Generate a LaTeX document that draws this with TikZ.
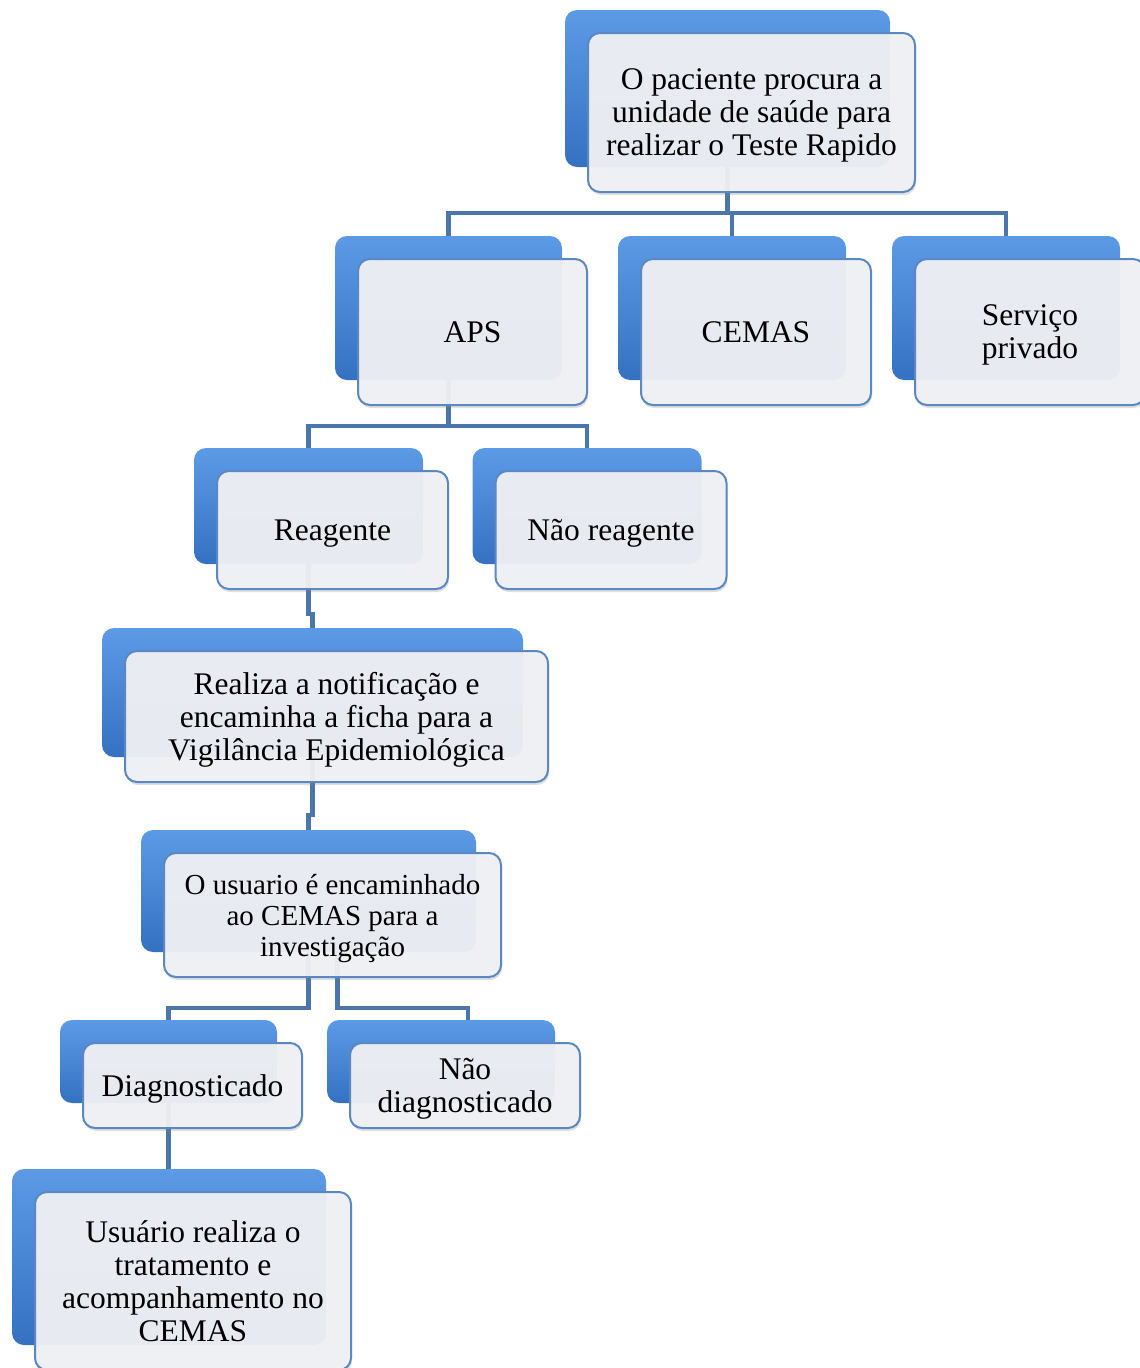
\documentclass[tikz,border=0pt]{standalone}
\usepackage{fontspec}
\setmainfont{Liberation Serif}
\usetikzlibrary{shadows}
\definecolor{backtop}{HTML}{5C9AE6}
\definecolor{backmid}{HTML}{3F7FCF}
\definecolor{backbot}{HTML}{3571C1}
\definecolor{frontfill}{HTML}{F0F1F4}
\definecolor{frontline}{HTML}{5C88C2}
\definecolor{linkblue}{HTML}{4A76AA}

% name/x/y/width/height/font size/line skip/text (back box centre, in pixels)
\def\boxlist{
  top/727.5/88.5/325/157/31.5/33/{O paciente procura a\\unidade de saúde para\\realizar o Teste Rapido},
  aps/448.5/308/227/144/31.5/33/{APS},
  cemas/732/308/228/144/31.5/33/{CEMAS},
  priv/1006/308/228/144/31.5/33/{Serviço\\privado},
  reag/308.5/506/229/116/31.5/33/{Reagente},
  nreag/587/506/229/116/31.5/33/{Não reagente},
  notif/312.5/692.5/421/129/31.5/33/{Realiza a notificação e\\encaminha a ficha para a\\Vigilância Epidemiológica},
  usu/308.5/891/335/122/29/31/{O usuario é encaminhado\\ao CEMAS para a\\investigação},
  diag/168.5/1061.5/217/83/31.5/33/{Diagnosticado},
  ndiag/441/1061.5/228/83/31.5/33/{Não\\diagnosticado},
  trat/169/1257/314/176/31.5/33/{Usuário realiza o\\tratamento e\\acompanhamento no\\CEMAS}}

\begin{document}
\begin{tikzpicture}[x=1pt, y=-1pt,
  backbox/.style={rounded corners=12pt, top color=backtop, middle color=backmid, bottom color=backbot, inner sep=0pt},
  frontbox/.style={rounded corners=12pt, draw=frontline, line width=2pt, fill=frontfill,
    fill opacity=0.95, text opacity=1, align=center, inner sep=2pt, text depth=0pt,
    drop shadow={shadow xshift=1pt, shadow yshift=-3pt, opacity=0.25}},
  link/.style={draw=linkblue, line width=4.5pt}]
\useasboundingbox (0,0) rectangle (1140,1368);

% Draw the blue back boxes
\foreach \name/\x/\y/\w/\h/\fs/\bs/\txt in \boxlist {
    \node[backbox, minimum width=\w, minimum height=\h] (\name b) at (\x,\y) {};
}

% Connect the boxes
\draw[link] (topb.south) -- ++(0,46) -| (apsb.north);
\draw[link] (topb.south) -- ++(0,46) -| (cemasb.north);
\draw[link] (topb.south) -- ++(0,46) -| (privb.north);
\draw[link] (apsb.south) -- ++(0,46) -| (reagb.north);
\draw[link] (apsb.south) -- ++(0,46) -| (nreagb.north);
\draw[link] (reagb.south) -- ++(0,50) -| (notifb.north);
\draw[link] (notifb.south) -- ++(0,58) -| (usub.north);
\draw[link] (usub.south) -- ++(0,56) -| (diagb.north);
\draw[link] ([xshift=29pt]usub.south) -- ++(0,56) -| ([xshift=27pt]ndiagb.north);
\draw[link] (diagb.south) -- (diagb.south |- tratb.north);

% Draw the light front boxes with the text
\foreach \name/\x/\y/\w/\h/\fs/\bs/\txt in \boxlist {
    \node[frontbox, minimum width=\w+2, minimum height=\h+2, font=\fontsize{\fs}{\bs}\selectfont]
        (\name) at ([shift={(24,24)}]\name b.center) {\txt};
}
\end{tikzpicture}
\end{document}
